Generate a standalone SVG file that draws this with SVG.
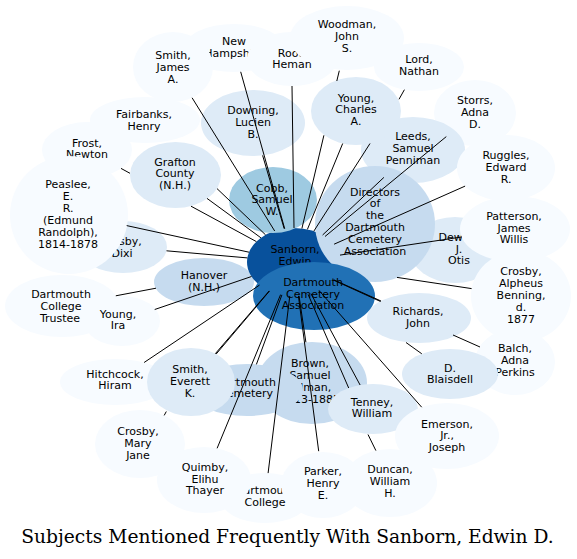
<svg xmlns="http://www.w3.org/2000/svg" width="577" height="559" viewBox="0 0 577 559">
<style>
.c0{fill:#f7fbff}.c1{fill:#deebf7}.c2{fill:#c6dbef}.c3{fill:#9ecae1}.c4{fill:#2171b5}.c5{fill:#08519c}
text{font-family:"DejaVu Sans","Liberation Sans",sans-serif;font-size:11px;text-anchor:middle;fill:#000}
.e{stroke:#000;stroke-width:1;fill:none}
.title{font-family:"DejaVu Serif","Liberation Serif",serif;font-size:18.67px}
</style>
<rect width="577" height="559" fill="#fff"/>
<g id="nodes">
<g id="newhampshire"><ellipse class="c0" cx="234" cy="48" rx="50" ry="24"/><text x="234" y="45">New</text><text x="234" y="57">Hampshire</text></g>
<g id="root"><ellipse class="c0" cx="292" cy="59" rx="45" ry="27"/><text x="292" y="57">Root,</text><text x="292" y="68">Heman</text></g>
<g id="smithja"><ellipse class="c0" cx="173" cy="67" rx="40" ry="35"/><text x="173" y="59">Smith,</text><text x="173" y="71">James</text><text x="173" y="83">A.</text></g>
<g id="woodman"><ellipse class="c0" cx="347" cy="38" rx="57" ry="32"/><text x="347" y="28">Woodman,</text><text x="347" y="40">John</text><text x="347" y="52">S.</text></g>
<g id="lord"><ellipse class="c0" cx="419" cy="67" rx="45" ry="24"/><text x="419" y="63">Lord,</text><text x="419" y="75">Nathan</text></g>
<g id="storrs"><ellipse class="c0" cx="475" cy="113" rx="41" ry="33"/><text x="475" y="104">Storrs,</text><text x="475" y="116">Adna</text><text x="475" y="128">D.</text></g>
<g id="leeds"><ellipse class="c1" cx="413" cy="150" rx="52" ry="33"/><text x="413" y="140">Leeds,</text><text x="413" y="152">Samuel</text><text x="413" y="164">Penniman</text></g>
<g id="ruggles"><ellipse class="c0" cx="506" cy="168" rx="49" ry="33"/><text x="506" y="159">Ruggles,</text><text x="506" y="171">Edward</text><text x="506" y="183">R.</text></g>
<g id="youngca"><ellipse class="c1" cx="356" cy="111" rx="45" ry="34"/><text x="356" y="102">Young,</text><text x="356" y="113">Charles</text><text x="356" y="125">A.</text></g>
<g id="fairbanks"><ellipse class="c0" cx="145" cy="120" rx="55" ry="23"/><text x="144" y="118">Fairbanks,</text><text x="144" y="130">Henry</text></g>
<g id="frost"><ellipse class="c0" cx="87" cy="150" rx="45" ry="28"/><text x="87" y="147">Frost,</text><text x="87" y="158">Newton</text></g>
<g id="crosbydixi"><ellipse class="c1" cx="123" cy="247" rx="44" ry="26"/><text x="121" y="245">Crosby,</text><text x="122" y="257">Dixi</text></g>
<g id="peaslee"><ellipse class="c0" cx="69" cy="215" rx="59" ry="59"/><text x="68" y="188">Peaslee,</text><text x="68" y="200">E.</text><text x="68" y="212">R.</text><text x="68" y="224">(Edmund</text><text x="68" y="236">Randolph),</text><text x="68" y="248">1814-1878</text></g>
<g id="grafton"><ellipse class="c1" cx="175.5" cy="175" rx="45.5" ry="33"/><text x="175" y="166">Grafton</text><text x="175" y="177">County</text><text x="175" y="189">(N.H.)</text></g>
<g id="downing"><ellipse class="c1" cx="253" cy="123" rx="52" ry="33"/><text x="253" y="114">Downing,</text><text x="253" y="126">Lucien</text><text x="253" y="138">B.</text></g>
<g id="hanover"><ellipse class="c2" cx="204" cy="282" rx="50" ry="24"/><text x="204" y="279">Hanover</text><text x="204" y="291">(N.H.)</text></g>
<g id="sanborn"><ellipse class="c5" cx="294" cy="262" rx="47" ry="34"/><text x="295" y="253">Sanborn,</text><text x="295" y="265">Edwin</text></g>
<g id="cobb"><ellipse class="c3" cx="273" cy="200" rx="44" ry="33"/><text x="272" y="192">Cobb,</text><text x="272" y="203">Samuel</text><text x="272" y="215">W.</text></g>
<g id="dewey"><ellipse class="c1" cx="455" cy="250" rx="45" ry="33"/><text x="459" y="241">Dewey,</text><text x="459" y="253">J.</text><text x="459" y="264">Otis</text></g>
<g id="directors"><ellipse class="c2" cx="375" cy="224" rx="60" ry="58"/><text x="375" y="196">Directors</text><text x="375" y="207">of</text><text x="375" y="219">the</text><text x="375" y="231">Dartmouth</text><text x="375" y="243">Cemetery</text><text x="375" y="255">Association</text></g>
<g id="patterson"><ellipse class="c0" cx="515" cy="229" rx="55" ry="33"/><text x="514" y="220">Patterson,</text><text x="514" y="232">James</text><text x="514" y="243">Willis</text></g>
<g id="crosbyalpheus"><ellipse class="c0" cx="521" cy="296" rx="50" ry="46"/><text x="521" y="275">Crosby,</text><text x="521" y="287">Alpheus</text><text x="521" y="299">Benning,</text><text x="521" y="311">d.</text><text x="521" y="323">1877</text></g>
<g id="balch"><ellipse class="c0" cx="515" cy="362" rx="40" ry="33"/><text x="515" y="352">Balch,</text><text x="515" y="364">Adna</text><text x="515" y="376">Perkins</text></g>
<g id="blaisdell"><ellipse class="c1" cx="450" cy="374" rx="48" ry="25"/><text x="450" y="372">D.</text><text x="450" y="383">Blaisdell</text></g>
<g id="richards"><ellipse class="c1" cx="419" cy="318" rx="52" ry="25"/><text x="418" y="315">Richards,</text><text x="418" y="327">John</text></g>
<g id="dca"><ellipse class="c4" cx="314" cy="296" rx="61" ry="34"/><text x="313" y="286">Dartmouth</text><text x="313" y="298">Cemetery</text><text x="313" y="309">Association</text></g>
<g id="dctrustee"><ellipse class="c0" cx="62" cy="306" rx="57" ry="31"/><text x="61" y="298">Dartmouth</text><text x="61" y="310">College</text><text x="60" y="322">Trustee</text></g>
<g id="youngira"><ellipse class="c0" cx="122" cy="321" rx="38" ry="25"/><text x="118" y="318">Young,</text><text x="118" y="329">Ira</text></g>
<g id="hitchcock"><ellipse class="c0" cx="115" cy="382" rx="55" ry="23"/><text x="115" y="378">Hitchcock,</text><text x="115" y="389">Hiram</text></g>
<g id="brown"><ellipse class="c2" cx="312" cy="383" rx="55" ry="41"/><text x="310" y="367">Brown,</text><text x="310" y="379">Samuel</text><text x="310" y="391">Gilman,</text><text x="310" y="403">1813-1885</text></g>
<g id="dcemetery"><ellipse class="c2" cx="247" cy="390" rx="56" ry="26"/><text x="246" y="386">Dartmouth</text><text x="246" y="397">Cemetery</text></g>
<g id="smithek"><ellipse class="c1" cx="191" cy="382" rx="44" ry="34"/><text x="190" y="373">Smith,</text><text x="190" y="385">Everett</text><text x="190" y="397">K.</text></g>
<g id="tenney"><ellipse class="c1" cx="373" cy="409" rx="45" ry="25"/><text x="372" y="406">Tenney,</text><text x="372" y="417">William</text></g>
<g id="emerson"><ellipse class="c0" cx="447" cy="436" rx="52" ry="33"/><text x="447" y="428">Emerson,</text><text x="447" y="439">Jr.,</text><text x="447" y="451">Joseph</text></g>
<g id="duncan"><ellipse class="c0" cx="390" cy="483" rx="47" ry="34"/><text x="390" y="473">Duncan,</text><text x="390" y="485">William</text><text x="390" y="497">H.</text></g>
<g id="crosbymj"><ellipse class="c0" cx="140" cy="444" rx="45" ry="34"/><text x="138" y="435">Crosby,</text><text x="138" y="447">Mary</text><text x="138" y="459">Jane</text></g>
<g id="dcollege"><ellipse class="c0" cx="265" cy="498" rx="45" ry="25"/><text x="265" y="494">Dartmouth</text><text x="265" y="506">College</text></g>
<g id="quimby"><ellipse class="c0" cx="204" cy="480" rx="47" ry="33"/><text x="205" y="471">Quimby,</text><text x="205" y="483">Elihu</text><text x="205" y="494">Thayer</text></g>
<g id="parker"><ellipse class="c0" cx="323" cy="485" rx="42" ry="33"/><text x="323" y="475">Parker,</text><text x="323" y="487">Henry</text><text x="323" y="499">E.</text></g>
</g>
<g id="connectors" class="e">
<path d="M339.3,70.7L336.8,81M323.9,135.3L301.9,228.5"/>
<path d="M292,86L294,228"/>
<path d="M240.7,71.8L284.7,228.7"/>
<path d="M192.1,97.8L274.7,231"/>
<path d="M262.6,155.4L284.2,228.7"/>
<path d="M342.7,143.5L307.4,229.4"/>
<path d="M404.4,89.7L399,99.3M370,143.5L313.8,231.2"/>
<path d="M446.3,136.6L325,236.5"/>
<path d="M383.9,177.4L322.6,235"/>
<path d="M465.1,186.1L334.1,244.2"/>
<path d="M461.6,237L340,255.1"/>
<path d="M471.6,288.6L397,277.4"/>
<path d="M381,301L334,279.9"/>
<path d="M421.8,353.8L406,342.5"/>
<path d="M480,347L453,335M380.5,301.5L333.7,280.2"/>
<path d="M421.7,407.2L319.2,290.7"/>
<path d="M360.1,385L311,293.7"/>
<path d="M375.9,450.6L368,434.5M348.7,388L308.1,294.4"/>
<path d="M318.7,451.2L298.4,295.9"/>
<path d="M268.1,473.1L289.8,295.9"/>
<path d="M217.1,448.3L280.6,294.6"/>
<path d="M164.2,415.4L166.3,411.5M216.2,354L269.5,291"/>
<path d="M215.3,353.7L269.2,290.9"/>
<path d="M144.1,362.5L259.5,285.1"/>
<path d="M154.7,309.5L251.5,276.5"/>
<path d="M115.8,295.8L156,288.2"/>
<path d="M166.5,250.8L247.3,257.9"/>
<path d="M126.7,225.6L249,252.2"/>
<path d="M121,168.4L130,173.3M191,206.2L256.4,241.6"/>
<path d="M207,198.4L260.9,237.8"/>
<path d="M217,188.6L265.6,234.9"/>
<path d="M305.9,342.3L299,295.8"/>
<path d="M256.4,364.4L281.9,294.9"/>
</g>
<text class="title" x="287.5" y="543">Subjects Mentioned Frequently With Sanborn, Edwin D.</text>
</svg>
